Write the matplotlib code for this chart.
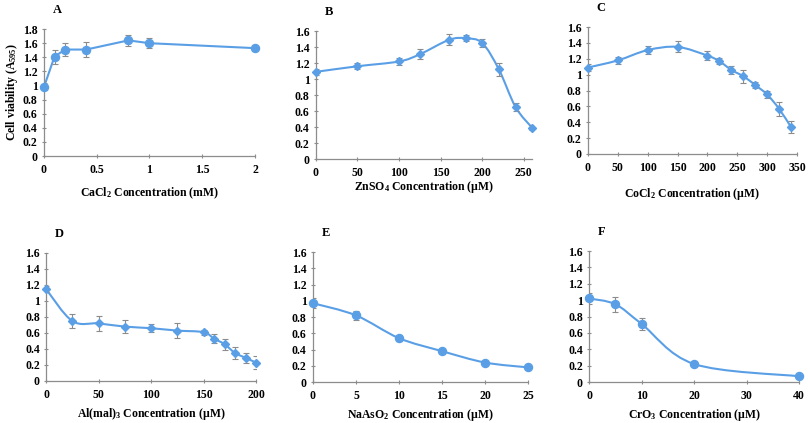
import numpy as np
import matplotlib
matplotlib.use("Agg")
import matplotlib.pyplot as plt
from matplotlib.path import Path
from matplotlib.patches import PathPatch

plt.rcParams['font.family'] = ['Liberation Serif', 'DejaVu Serif']
plt.rcParams['font.weight'] = 'bold'
plt.rcParams['mathtext.fontset'] = 'custom'
plt.rcParams['mathtext.rm'] = 'Liberation Serif:bold'
plt.rcParams['mathtext.it'] = 'Liberation Serif:bold'
plt.rcParams['mathtext.bf'] = 'Liberation Serif:bold'

# --- data ---
a_x = [0, 0.1, 0.2, 0.4, 0.8, 1, 2]
a_y = [0.98, 1.41, 1.51, 1.51, 1.64, 1.60, 1.53]
a_err = [0.05, 0.10, 0.09, 0.10, 0.08, 0.07, 0.04]

b_x = [0, 50, 100, 125, 160, 180, 200, 220, 240, 260]
b_y = [1.09, 1.16, 1.22, 1.31, 1.49, 1.51, 1.45, 1.12, 0.65, 0.39]
b_err = [0.04, 0.04, 0.04, 0.06, 0.07, 0.04, 0.05, 0.08, 0.05, 0.03]

c_x = [0, 50, 100, 150, 200, 220, 240, 260, 280, 300, 320, 340]
c_y = [1.09, 1.18, 1.31, 1.35, 1.24, 1.17, 1.06, 0.98, 0.87, 0.75, 0.57, 0.34]
c_err = [0.05, 0.04, 0.05, 0.07, 0.06, 0.04, 0.05, 0.08, 0.04, 0.05, 0.09, 0.08]

d_x = [0, 25, 50, 75, 100, 125, 150, 160, 170, 180, 190, 200]
d_y = [1.15, 0.75, 0.72, 0.68, 0.66, 0.63, 0.61, 0.53, 0.46, 0.35, 0.29, 0.23]
d_err = [0.04, 0.09, 0.09, 0.08, 0.05, 0.09, 0.03, 0.06, 0.07, 0.07, 0.06, 0.08]

e_x = [0, 5, 10, 15, 20, 25]
e_y = [0.97, 0.82, 0.54, 0.38, 0.24, 0.18]
e_err = [0.06, 0.06, 0.03, 0.02, 0.02, 0.02]

f_x = [0, 5, 10, 20, 40]
f_y = [1.02, 0.95, 0.71, 0.22, 0.07]
f_err = [0.07, 0.09, 0.07, 0.02, 0.01]

BLUE = '#5a9fe6'
GRAY = '#8c8c8c'


def smooth_path(ax, xs, ys):
    # Excel-like smoothed line drawn as cubic Bezier segments
    pts = np.column_stack([xs, ys]).astype(float)
    disp = ax.transData.transform(pts)
    n = len(disp)
    verts = [disp[0]]
    codes = [Path.MOVETO]
    for i in range(n - 1):
        p0 = disp[max(i - 1, 0)]
        p1 = disp[i]
        p2 = disp[i + 1]
        p3 = disp[min(i + 2, n - 1)]
        c1 = p1 + (p2 - p0) / 6.0
        c2 = p2 - (p3 - p1) / 6.0
        verts += [c1, c2, p2]
        codes += [Path.CURVE4] * 3
    verts = ax.transData.inverted().transform(np.array(verts))
    patch = PathPatch(Path(verts, codes), facecolor='none', edgecolor=BLUE,
                      lw=1.5, zorder=2)
    ax.add_patch(patch)


fig = plt.figure(figsize=(8.1, 4.23), dpi=100)

panels = [
    ('A', a_x, a_y, a_err, 'o', False, [0.0543, 0.6312, 0.2605, 0.300],
     (0, 2), [0, 0.5, 1, 1.5, 2], (0, 1.8), 'CaCl$_2$ Concentration (mM)'),
    ('B', b_x, b_y, b_err, 'D', True, [0.390, 0.624, 0.267, 0.3026],
     (0, 260), [0, 50, 100, 150, 200, 250], (0, 1.6),
     'ZnSO$_4$ Concentration (µM)'),
    ('C', c_x, c_y, c_err, 'D', True, [0.7259, 0.636, 0.258, 0.300],
     (0, 350), [0, 50, 100, 150, 200, 250, 300, 350], (0, 1.6),
     'CoCl$_2$ Concentration (µM)'),
    ('D', d_x, d_y, d_err, 'D', True, [0.0568, 0.0993, 0.2593, 0.3026],
     (0, 200), [0, 50, 100, 150, 200], (0, 1.6),
     'Al(mal)$_3$ Concentration (µM)'),
    ('E', e_x, e_y, e_err, 'o', True, [0.3864, 0.0969, 0.2654, 0.3073],
     (0, 25), [0, 5, 10, 15, 20, 25], (0, 1.6),
     'NaAsO$_2$ Concentration (µM)'),
    ('F', f_x, f_y, f_err, 'o', True, [0.7272, 0.0969, 0.2593, 0.3097],
     (0, 40), [0, 10, 20, 30, 40], (0, 1.6),
     'CrO$_3$ Concentration (µM)'),
]

label_pad = {'A': 7, 'B': 0, 'C': 9, 'D': 4, 'E': 4, 'F': 4}

for (letter, xs, ys, errs, mk, smooth, rect, xlim, xticks, ylim,
     xlabel) in panels:
    ax = fig.add_axes(rect)
    ax.set_xlim(*xlim)
    ax.set_ylim(*ylim)
    ax.set_xticks(xticks)
    ax.set_xticklabels([f'{t:g}' for t in xticks])
    yt = np.arange(0, ylim[1] + 0.01, 0.2)
    ax.set_yticks(yt)
    ax.set_yticklabels([f'{t:.1f}'.rstrip('0').rstrip('.') if t else '0'
                        for t in yt])
    for side in ['top', 'right']:
        ax.spines[side].set_visible(False)
    for side in ['left', 'bottom']:
        ax.spines[side].set_color(GRAY)
        ax.spines[side].set_linewidth(0.9)
    ax.tick_params(direction='inout', length=3, width=0.8, color=GRAY,
                   labelsize=8.5)
    ax.tick_params(axis='x', pad=4)
    ax.tick_params(axis='y', pad=3)
    for lab in ax.get_xticklabels() + ax.get_yticklabels():
        lab.set_fontweight('bold')

    if smooth:
        smooth_path(ax, xs, ys)
    else:
        ax.plot(xs, ys, color=BLUE, lw=1.5, zorder=2)
    ax.errorbar(xs, ys, yerr=errs, fmt='none', ecolor=GRAY, elinewidth=0.8,
                capsize=2, capthick=0.8, zorder=3)
    ms = 5.8 if mk == 'o' else 4.5
    ax.plot(xs, ys, linestyle='none', marker=mk, ms=ms, color=BLUE,
            zorder=4, clip_on=False)

    ax.set_xlabel(xlabel, fontsize=8.5, fontweight='bold',
                  labelpad=label_pad[letter])
    ax.text(0.04, 1.1, letter, transform=ax.transAxes, fontsize=9,
            fontweight='bold', ha='left', va='bottom')
    if letter == 'A':
        ax.set_ylabel('Cell viability (A$_{595}$)', fontsize=8.5,
                      fontweight='bold', labelpad=2)

fig.savefig('out.png', dpi=100)
